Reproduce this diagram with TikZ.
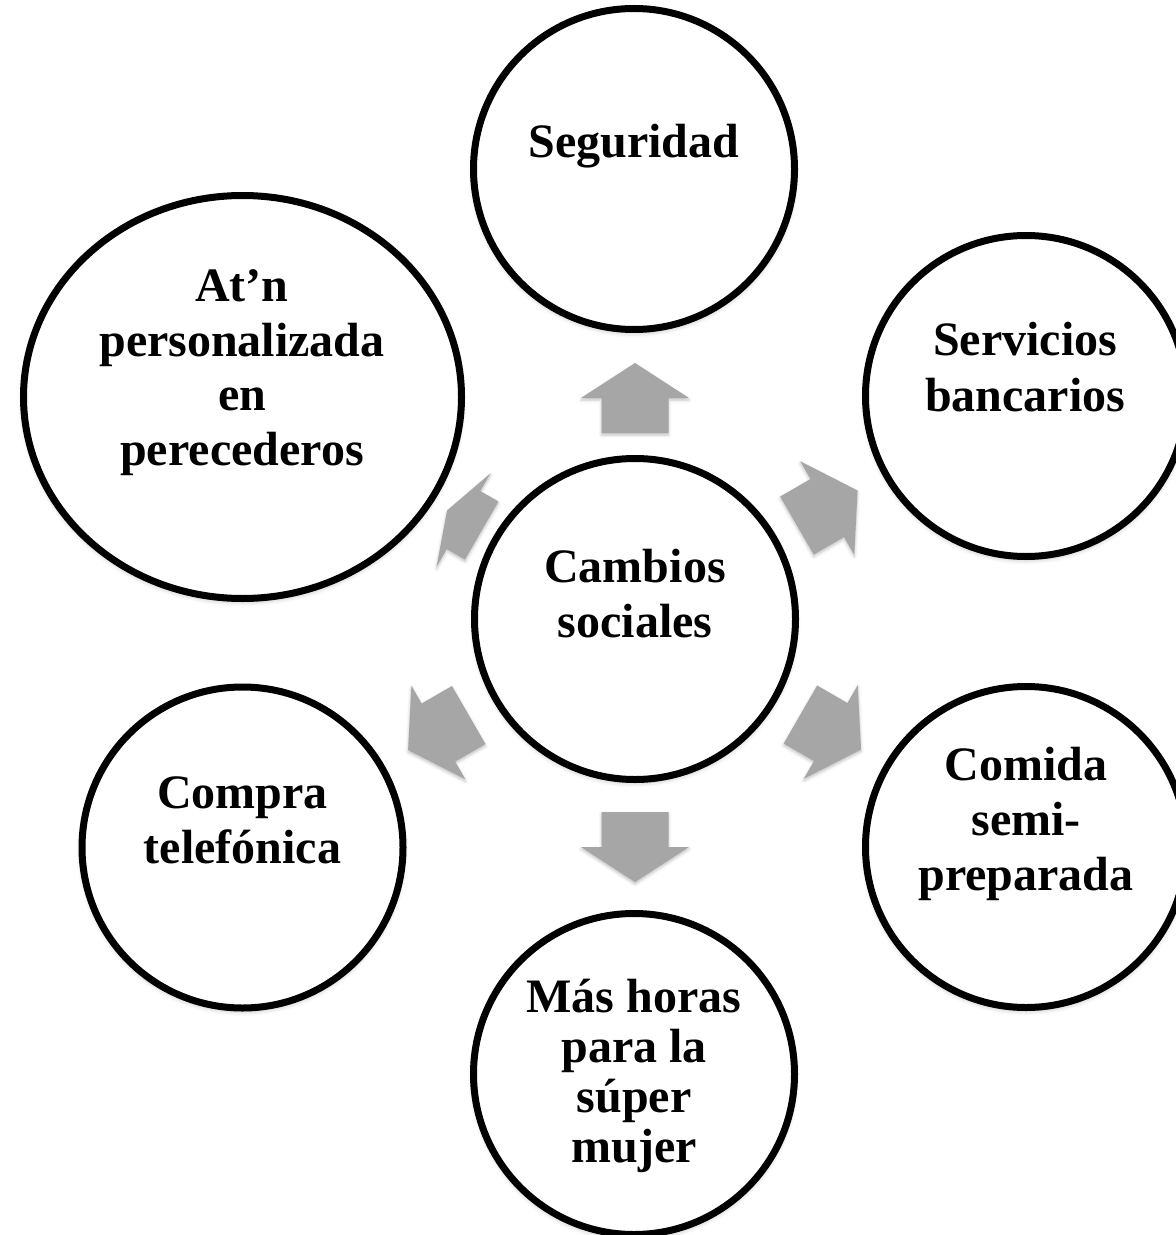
\documentclass[tikz,border=0pt]{standalone}
\usepackage{fontspec}
\setmainfont{Liberation Serif}
\usetikzlibrary{shapes.geometric,shadows.blur}
\definecolor{arrowgray}{RGB}{166,166,166}
\newcommand\radarrow[5]{%
  \begin{scope}[shift={(#1)}, rotate=#2]
    \fill[arrowfill] (#3,-33.5) -- (#3+#4,-33.5) -- (#3+#4,-54) -- (#3+#4+#5,0)
      -- (#3+#4,54) -- (#3+#4,33.5) -- (#3,33.5) -- cycle;
  \end{scope}}
\begin{document}
\begin{tikzpicture}[x=0.5pt,y=-0.5pt,
  softshadow/.style={blur shadow={shadow xshift=0pt, shadow yshift=-1.5pt, shadow blur radius=2.5pt, shadow opacity=30}},
  bubble/.style={circle, draw=black, line width=3.5pt, fill=white, minimum size=160.5pt, inner sep=0pt, softshadow},
  bigbubble/.style={ellipse, draw=black, line width=3.5pt, fill=white, minimum width=219pt, minimum height=201.5pt, inner sep=0pt, softshadow},
  btext/.style={font=\bfseries\fontsize{24}{27.5}\selectfont, anchor=base, inner sep=0pt},
  arrowfill/.style={fill=arrowgray, blur shadow={shadow xshift=0pt, shadow yshift=-1pt, shadow blur radius=1.5pt, shadow opacity=25}}
]
\useasboundingbox (0,0) rectangle (1176,1235);
\clip (0,0) rectangle (1176,1235);

% circles
\node[bubble] (cen) at (635,619) {};
\node[bubble] (seg) at (634,169) {};
\node[bubble] (ser) at (1026,396) {};
\node[bubble] (com) at (1026,847) {};
\node[bubble] (mas) at (634,1074) {};
\node[bubble] (cpr) at (242.5,847.5) {};
\node[bigbubble] (atn) at (242.5,397) {};

% arrows from the centre
\radarrow{cen.center}{90}{186}{35}{35}
\radarrow{cen.center}{30}{187}{35}{35}
\radarrow{cen.center}{-30}{191}{35}{35}
\radarrow{cen.center}{-90}{193}{35}{35}
\radarrow{cen.center}{210}{192}{35}{35}
\radarrow{cen.center}{150}{177}{21}{19}

% texts
\node[btext] (tcen) at (635,582) {\begin{tabular}[t]{@{}c@{}}Cambios\\sociales\end{tabular}};
\node[btext] (tseg) at (634,158) {\begin{tabular}[t]{@{}c@{}}Seguridad\end{tabular}};
\node[btext, font=\bfseries\fontsize{24}{28}\selectfont] (tser) at (1025,356) {\begin{tabular}[t]{@{}c@{}}Servicios\\bancarios\end{tabular}};
\node[btext] (tcom) at (1026,780) {\begin{tabular}[t]{@{}c@{}}Comida\\semi-\\preparada\end{tabular}};
\node[btext, font=\bfseries\fontsize{24}{25}\selectfont] (tmas) at (634,1012) {\begin{tabular}[t]{@{}c@{}}Más horas\\para la\\súper\\mujer\end{tabular}};
\node[btext] (tcpr) at (242.5,808) {\begin{tabular}[t]{@{}c@{}}Compra\\telefónica\end{tabular}};
\node[btext, font=\bfseries\fontsize{24}{27.2}\selectfont] (tatn) at (242,302) {\begin{tabular}[t]{@{}c@{}}At’n\\personalizada\\en\\perecederos\end{tabular}};
\end{tikzpicture}
\end{document}
